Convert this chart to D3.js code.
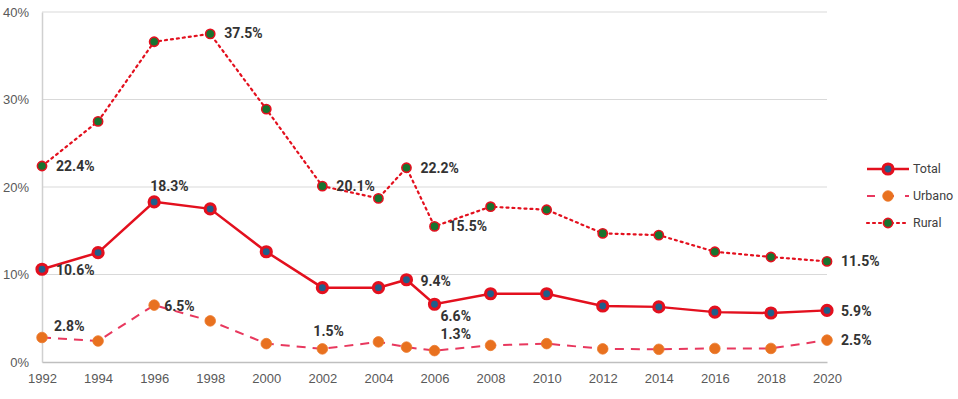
<!DOCTYPE html>
<html>
<head>
<meta charset="utf-8">
<script src="https://cdn.jsdelivr.net/npm/d3@7"></script>
<style>
body { margin: 0; background: #fff; }
svg { display: block; font-family: Roboto, "Liberation Sans", sans-serif; }
.tick text { fill: #595959; font-size: 13px; }
.lbl { fill: #333; font-size: 14px; font-weight: bold; }
.leg { fill: #404040; font-size: 12.5px; }
</style>
</head>
<body>
<div id="chart"></div>
<script>
"use strict";

var years = [1992, 1994, 1996, 1998, 2000, 2002, 2004, 2005, 2006, 2008, 2010, 2012, 2014, 2016, 2018, 2020];
var totalValues = [10.6, 12.5, 18.3, 17.5, 12.6, 8.5, 8.5, 9.4, 6.6, 7.8, 7.8, 6.4, 6.3, 5.7, 5.6, 5.9];
var urbanoValues = [2.8, 2.4, 6.5, 4.7, 2.1, 1.5, 2.3, 1.7, 1.3, 1.9, 2.1, 1.5, 1.45, 1.55, 1.55, 2.5];
var ruralValues = [22.4, 27.5, 36.6, 37.5, 28.9, 20.1, 18.7, 22.2, 15.5, 17.75, 17.4, 14.7, 14.5, 12.6, 12.0, 11.5];
var yTicks = [0, 10, 20, 30, 40];
var xTicks = [1992, 1994, 1996, 1998, 2000, 2002, 2004, 2006, 2008, 2010, 2012, 2014, 2016, 2018, 2020];

// labelled points: series, year, dx, dy (offset of label from point)
var labels = [
    ["rural", 1992, 14, 5], ["rural", 1998, 14, 4], ["rural", 2002, 14, 5],
    ["rural", 2005, 14, 5], ["rural", 2006, 14, 5], ["rural", 2020, 14, 5],
    ["total", 1992, 14, 6], ["total", 1996, -4, -11], ["total", 2005, 14, 6],
    ["total", 2006, 6, 17], ["total", 2020, 14, 6],
    ["urbano", 1992, 12, -7], ["urbano", 1996, 10, 6], ["urbano", 2002, -9, -13],
    ["urbano", 2006, 6, -12], ["urbano", 2020, 14, 5]
];

var width = 958, height = 399;
var margin = {left: 42, right: 131, top: 12, bottom: 37};

var svg = d3.select("#chart").append("svg")
    .attr("width", width)
    .attr("height", height);

var x = d3.scaleLinear().domain([1992, 2020]).range([margin.left, width - margin.right]);
var y = d3.scaleLinear().domain([0, 40]).range([height - margin.bottom, margin.top]);

// gridlines
svg.append("g")
    .selectAll("line")
    .data(yTicks.slice(1))
    .enter()
    .append("line")
    .attr("x1", margin.left)
    .attr("x2", width - margin.right)
    .attr("y1", function(d) { return y(d); })
    .attr("y2", function(d) { return y(d); })
    .attr("stroke", "#d9d9d9")
    .attr("stroke-width", 1);

// y axis
var yAxis = svg.append("g")
    .attr("transform", "translate(" + margin.left + ",0)")
    .call(d3.axisLeft(y).tickValues(yTicks).tickSize(0).tickPadding(13)
        .tickFormat(function(d) { return d + "%"; }));
yAxis.select(".domain").attr("stroke", "#d0d0d0").attr("stroke-width", 1.5);

// x axis
var xAxis = svg.append("g")
    .attr("transform", "translate(0," + y(0) + ")")
    .call(d3.axisBottom(x).tickValues(xTicks).tickSize(0).tickPadding(12)
        .tickFormat(d3.format("d")));
xAxis.select(".domain").attr("stroke", "#bfbfbf").attr("stroke-width", 1.5);

var series = {
    total: {values: totalValues, stroke: "#e3101e", dash: null, width: 2.5},
    urbano: {values: urbanoValues, stroke: "#e8385e", dash: "9,7", width: 2},
    rural: {values: ruralValues, stroke: "#e3101e", dash: "2,4", width: 2.2}
};

function points(key) {
    return years.map(function(yr, i) { return {year: yr, v: series[key].values[i]}; });
}

var line = d3.line()
    .x(function(d) { return x(d.year); })
    .y(function(d) { return y(d.v); });

function drawMarker(g, key, cx, cy) {
    if (key === "total") {
        g.append("circle").attr("cx", cx).attr("cy", cy).attr("r", 5)
            .attr("fill", "#1f5f8b").attr("stroke", "#e3101e").attr("stroke-width", 3.2);
    } else if (key === "urbano") {
        g.append("circle").attr("cx", cx).attr("cy", cy).attr("r", 5.3)
            .attr("fill", "#e8711f").attr("stroke", "#ec7a2c").attr("stroke-width", 0.8);
    } else {
        g.append("circle").attr("cx", cx).attr("cy", cy).attr("r", 4.6)
            .attr("fill", "#17742f").attr("stroke", "#e3101e").attr("stroke-width", 1.6);
    }
}

["urbano", "total", "rural"].forEach(function(key) {
    var s = series[key];
    var g = svg.append("g").attr("class", key);
    g.append("path")
        .datum(points(key))
        .attr("d", line)
        .attr("fill", "none")
        .attr("stroke", s.stroke)
        .attr("stroke-width", s.width)
        .attr("stroke-dasharray", s.dash)
        .attr("stroke-linecap", key === "rural" ? "round" : "butt");
    points(key).forEach(function(d) {
        drawMarker(g, key, x(d.year), y(d.v));
    });
});

// data labels
svg.append("g")
    .selectAll("text")
    .data(labels)
    .enter()
    .append("text")
    .attr("class", "lbl")
    .attr("x", function(d) { return x(d[1]) + d[2]; })
    .attr("y", function(d) {
        var v = series[d[0]].values[years.indexOf(d[1])];
        return y(v) + d[3];
    })
    .text(function(d) {
        var v = series[d[0]].values[years.indexOf(d[1])];
        return v.toFixed(1) + "%";
    });

// legend
var legend = svg.append("g").attr("transform", "translate(867,169)");
var legendItems = ["total", "urbano", "rural"];
var legendNames = ["Total", "Urbano", "Rural"];
legendItems.forEach(function(key, i) {
    var s = series[key];
    var g = legend.append("g").attr("transform", "translate(0," + i * 27 + ")");
    g.append("line")
        .attr("x1", 0).attr("x2", 42).attr("y1", 0).attr("y2", 0)
        .attr("stroke", s.stroke)
        .attr("stroke-width", s.width)
        .attr("stroke-dasharray", key === "urbano" ? "8,11" : s.dash)
        .attr("stroke-linecap", key === "rural" ? "round" : "butt");
    drawMarker(g, key, 21, 0);
    g.append("text").attr("class", "leg")
        .attr("x", 46).attr("y", 4)
        .text(legendNames[i]);
});
</script>
</body>
</html>
